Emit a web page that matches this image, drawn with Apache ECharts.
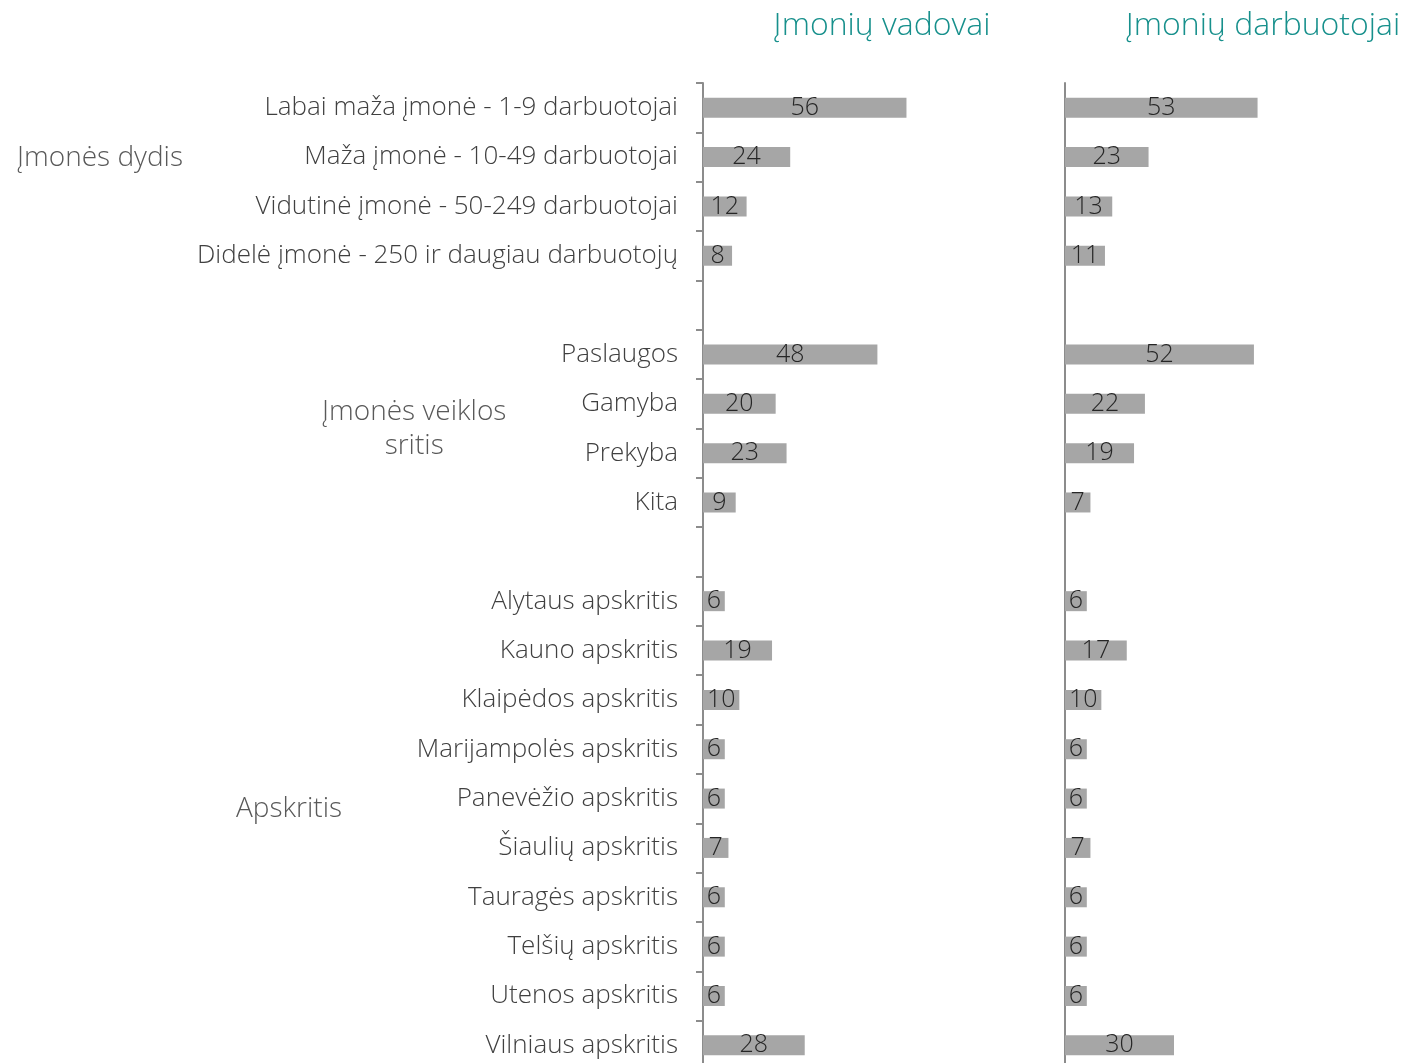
<!DOCTYPE html>
<html>
<head>
<meta charset="utf-8">
<script src="https://cdn.jsdelivr.net/npm/echarts@6/dist/echarts.min.js"></script>
<style>
  html, body { margin: 0; padding: 0; background: #fff; }
  #main { width: 1404px; height: 1063px; }
</style>
</head>
<body>
<div id="main"></div>
<script>
// kategorijos (tuščios eilutės – tarpai tarp grupių)
var categories = [
    'Labai maža įmonė - 1-9 darbuotojai',
    'Maža įmonė - 10-49 darbuotojai',
    'Vidutinė įmonė - 50-249 darbuotojai',
    'Didelė įmonė - 250 ir daugiau darbuotojų',
    '',
    'Paslaugos', 'Gamyba', 'Prekyba', 'Kita',
    '',
    'Alytaus apskritis', 'Kauno apskritis', 'Klaipėdos apskritis',
    'Marijampolės apskritis', 'Panevėžio apskritis', 'Šiaulių apskritis',
    'Tauragės apskritis', 'Telšių apskritis', 'Utenos apskritis', 'Vilniaus apskritis'
];
var vadovai = [56, 24, 12, 8, null, 48, 20, 23, 9, null, 6, 19, 10, 6, 6, 7, 6, 6, 6, 28];
var darbuotojai = [53, 23, 13, 11, null, 52, 22, 19, 7, null, 6, 17, 10, 6, 6, 7, 6, 6, 6, 30];
var titles = ['Įmonių vadovai', 'Įmonių darbuotojai'];
var groups = ['Įmonės dydis', 'Įmonės veiklos\nsritis', 'Apskritis'];

var font = '"Open Sans", "Noto Sans", sans-serif';
var chart = echarts.init(document.getElementById('main'));

var barLabel = {
    show: true,
    position: 'inside',
    color: '#262626',
    fontFamily: font,
    fontWeight: 300,
    fontSize: 25
};

var option = {
    animation: false,
    title: [
        {text: titles[0], left: 877, top: 5, textAlign: 'center',
         textStyle: {color: '#17908c', fontFamily: font, fontWeight: 300, fontSize: 32}},
        {text: titles[1], left: 1258, top: 5, textAlign: 'center',
         textStyle: {color: '#17908c', fontFamily: font, fontWeight: 300, fontSize: 32}}
    ],
    grid: [
        {left: 703, top: 83, width: 218, height: 987, outerBoundsMode: 'none', containLabel: false},
        {left: 1065, top: 83, width: 218, height: 987, outerBoundsMode: 'none', containLabel: false}
    ],
    xAxis: [
        {gridIndex: 0, type: 'value', min: 0, max: 60, show: false},
        {gridIndex: 1, type: 'value', min: 0, max: 60, show: false}
    ],
    yAxis: [
        {
            gridIndex: 0, type: 'category', data: categories, inverse: true,
            axisLine: {lineStyle: {color: '#8c8c8c', width: 2}},
            axisTick: {show: true, length: 7, lineStyle: {color: '#8c8c8c', width: 2}},
            axisLabel: {margin: 25, color: '#404040', fontFamily: font, fontWeight: 300, fontSize: 26, interval: 0},
            splitLine: {show: false}
        },
        {
            gridIndex: 1, type: 'category', data: categories, inverse: true,
            axisLine: {lineStyle: {color: '#8c8c8c', width: 2}},
            axisTick: {show: false},
            axisLabel: {show: false},
            splitLine: {show: false}
        }
    ],
    graphic: [
        {type: 'text', left: 17, top: 144, style: {text: groups[0], fill: '#595959', font: '300 28px ' + font}},
        {type: 'text', left: 322, top: 395, style: {text: groups[1], fill: '#595959', font: '300 28px ' + font, textAlign: 'center', lineHeight: 34}},
        {type: 'text', left: 236, top: 795, style: {text: groups[2], fill: '#595959', font: '300 28px ' + font}}
    ],
    series: [
        {
            name: titles[0], type: 'bar', xAxisIndex: 0, yAxisIndex: 0,
            data: vadovai, barWidth: 20, itemStyle: {color: '#a6a6a6'}, label: barLabel
        },
        {
            name: titles[1], type: 'bar', xAxisIndex: 1, yAxisIndex: 1,
            data: darbuotojai, barWidth: 20, itemStyle: {color: '#a6a6a6'}, label: barLabel
        }
    ]
};

chart.setOption(option);
</script>
</body>
</html>
